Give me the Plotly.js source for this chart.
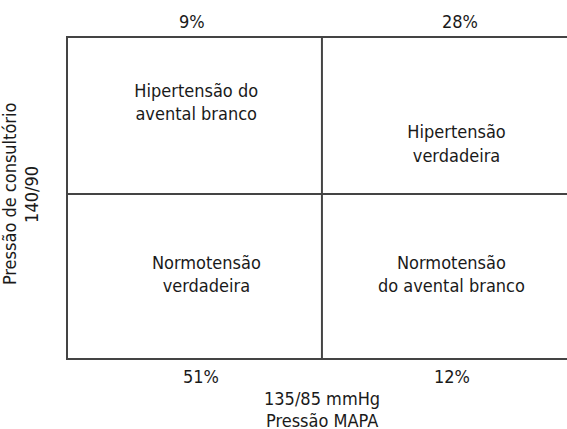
<!DOCTYPE html>
<html>
<head>
<meta charset="utf-8">
<script src="https://cdn.plot.ly/plotly-3.0.1.min.js"></script>
<style>html,body{margin:0;padding:0;background:#fff;}#chart{width:567px;height:429px;}</style>
</head>
<body>
<div id="chart"></div>
<script>
// Quadrant labels (data coords: x split at 1 = MAPA 135/85, y split at 1 = consultório 140/90)
var quadrantLabels = ["Hipertensão do<br>avental branco", "Hipertensão<br>verdadeira", "Normotensão<br>verdadeira", "Normotensão<br>do avental branco"];
var quadrantX = [0.505, 1.53, 0.545, 1.51];
var quadrantY = [1.55, 1.295, 0.5, 0.5];

var percentLabels = ["9%", "28%", "51%", "12%"];
var percentX = [0.488, 1.543, 0.524, 1.512];
var percentY = [2.049, 2.049, -0.11, -0.11];

var xThreshold = 1;
var yThreshold = 1;
var xTitleLines = ["135/85 mmHg", "Pressão MAPA"];
var xTitleY = [-0.244, -0.38];
var yTitleLines = ["Pressão de consultório", "140/90"];
var yTitleX = [-0.228, -0.142];

var XRANGE = [0, 1.965];
var YRANGE = [0, 1.951];
function px(x) { return (x - XRANGE[0]) / (XRANGE[1] - XRANGE[0]); }
function py(y) { return (y - YRANGE[0]) / (YRANGE[1] - YRANGE[0]); }

var FONT = "'Liberation Sans Narrow', 'DejaVu Sans Condensed', Roboto, sans-serif";
var LINE = "#444";
var TXT = "#1a1a1a";
var FS = 18;

var traces = [
  {x: quadrantX, y: quadrantY, text: quadrantLabels, mode: "text", type: "scatter",
   textfont: {family: FONT, size: FS, color: TXT}, hoverinfo: "none", cliponaxis: false}
];

var annotations = [];
percentLabels.forEach(function (t, i) {
  annotations.push({text: t, xref: "paper", yref: "paper", x: px(percentX[i]), y: py(percentY[i]),
    xanchor: "center", yanchor: "middle", showarrow: false, font: {family: FONT, size: FS, color: TXT}});
});
xTitleLines.forEach(function (t, i) {
  annotations.push({text: t, xref: "paper", yref: "paper", x: px(xThreshold), y: py(xTitleY[i]),
    xanchor: "center", yanchor: "middle", showarrow: false, font: {family: FONT, size: FS, color: TXT}});
});
yTitleLines.forEach(function (t, i) {
  annotations.push({text: t, xref: "paper", yref: "paper", x: px(yTitleX[i]), y: py(yThreshold), textangle: -90,
    xanchor: "center", yanchor: "middle", showarrow: false, font: {family: FONT, size: FS, color: TXT}});
});

var layout = {
  width: 567, height: 429,
  margin: {l: 68, r: 0, t: 38, b: 71},
  paper_bgcolor: "#fff", plot_bgcolor: "#fff",
  showlegend: false,
  font: {family: FONT, size: FS, color: TXT},
  xaxis: {range: XRANGE, showgrid: false, zeroline: false, showticklabels: false, ticks: "",
          showline: true, linecolor: LINE, linewidth: 2, mirror: true, fixedrange: true},
  yaxis: {range: YRANGE, showgrid: false, zeroline: false, showticklabels: false, ticks: "",
          showline: true, linecolor: LINE, linewidth: 2, mirror: false, fixedrange: true},
  shapes: [
    {type: "line", xref: "x", yref: "paper", x0: xThreshold, x1: xThreshold, y0: 0, y1: 1,
     line: {color: LINE, width: 2}},
    {type: "line", xref: "paper", yref: "y", x0: 0, x1: 1, y0: yThreshold, y1: yThreshold,
     line: {color: LINE, width: 2}}
  ],
  annotations: annotations
};

Plotly.newPlot("chart", traces, layout, {displayModeBar: false, staticPlot: true});
</script>
</body>
</html>
